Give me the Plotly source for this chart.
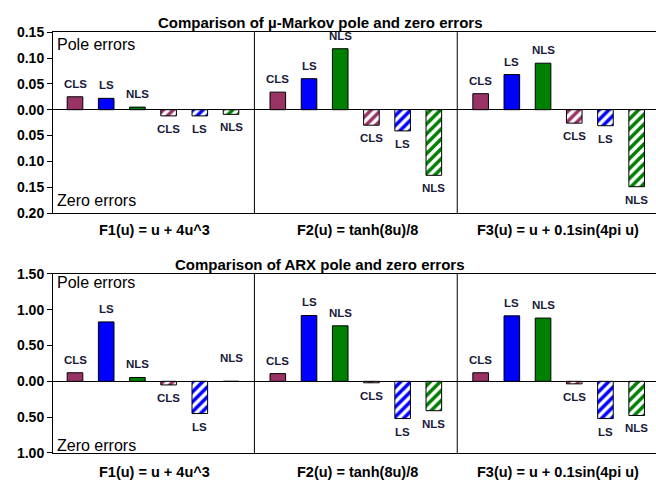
import plotly.graph_objects as go

# ---- data ----
methods = ["CLS", "LS", "NLS"]
functions = ["F1(u) = u + 4u^3", "F2(u) = tanh(8u)/8", "F3(u) = u + 0.1sin(4pi u)"]

# mu-Markov errors, one value per function (F1, F2, F3)
markov_pole_cls = [0.025, 0.034, 0.031]
markov_pole_ls = [0.022, 0.060, 0.068]
markov_pole_nls = [0.005, 0.118, 0.090]
markov_zero_cls = [0.012, 0.030, 0.026]
markov_zero_ls = [0.012, 0.041, 0.031]
markov_zero_nls = [0.009, 0.127, 0.149]

# ARX errors
arx_pole_cls = [0.12, 0.108, 0.12]
arx_pole_ls = [0.83, 0.92, 0.915]
arx_pole_nls = [0.054, 0.776, 0.884]
arx_zero_cls = [0.05, 0.02, 0.035]
arx_zero_ls = [0.45, 0.52, 0.52]
arx_zero_nls = [0.0, 0.41, 0.477]

markov_ticks = [-0.20, -0.15, -0.10, -0.05, 0.00, 0.05, 0.10, 0.15]
arx_ticks = [-1.00, -0.50, 0.00, 0.50, 1.00, 1.50]

colors = {"CLS": "#993366", "LS": "#0000FF", "NLS": "#008000"}

W, H = 656, 488
ML = 53
FONT = "Liberation Sans, Arial, sans-serif"


def px(x, y):
    # pixel position -> paper coordinates (paper spans the plot area horizontally)
    return (x - ML) / (W - ML), 1 - y / H


fig = go.Figure()

charts = [
    dict(xa="x", ya="y",
         pole=[markov_pole_cls, markov_pole_ls, markov_pole_nls],
         zero=[markov_zero_cls, markov_zero_ls, markov_zero_nls]),
    dict(xa="x2", ya="y2",
         pole=[arx_pole_cls, arx_pole_ls, arx_pole_nls],
         zero=[arx_zero_cls, arx_zero_ls, arx_zero_nls]),
]

annotations = []
GROUP = 6.5  # slots per function group
label_font = dict(family=FONT, size=11.5, color="#1a1a3a", weight="bold")

for ch in charts:
    for m, method in enumerate(methods):
        pos_x = [g * GROUP + m for g in range(3)]
        neg_x = [g * GROUP + 3 + m for g in range(3)]
        pos_y = ch["pole"][m]
        neg_y = [-v for v in ch["zero"][m]]
        fig.add_trace(go.Bar(
            x=pos_x, y=pos_y, xaxis=ch["xa"], yaxis=ch["ya"], width=0.5,
            marker=dict(color=colors[method], line=dict(color="black", width=1)),
            showlegend=False, name=method + " pole"))
        fig.add_trace(go.Bar(
            x=neg_x, y=neg_y, xaxis=ch["xa"], yaxis=ch["ya"], width=0.5,
            marker=dict(color="white", line=dict(color="black", width=1),
                        pattern=dict(shape="/", fgcolor=colors[method], bgcolor="white",
                                     fgopacity=1, size=7, solidity=0.5)),
            showlegend=False, name=method + " zero"))
        for xv, yv in zip(pos_x, pos_y):
            annotations.append(dict(x=xv, y=yv, xref=ch["xa"], yref=ch["ya"], text=method,
                                    showarrow=False, yanchor="middle", yshift=13, font=label_font))
        for xv, yv in zip(neg_x, neg_y):
            shift = 23 if yv == 0 else -13
            annotations.append(dict(x=xv, y=yv, xref=ch["xa"], yref=ch["ya"], text=method,
                                    showarrow=False, yanchor="middle", yshift=shift, font=label_font))

# function-group dividers
shapes = []
for xa, ya in [("x", "y"), ("x2", "y2")]:
    for xd in [5.75, 12.25]:
        shapes.append(dict(type="line", xref=xa, yref=ya + " domain", x0=xd, x1=xd, y0=0, y1=1,
                           line=dict(color="black", width=1)))

# titles, group labels and region captions
for ytitle, ylabel, ypole, yzero, title in [
    (15, 230, 38, 199, "Comparison of \u00b5-Markov pole and zero errors"),
    (265, 480, 284, 452, "Comparison of ARX pole and zero errors"),
]:
    x, y = px(320, ytitle)
    annotations.append(dict(x=x, y=y, xref="paper", yref="paper", text=title, showarrow=False,
                            xanchor="center", yanchor="middle",
                            font=dict(family=FONT, size=15, color="black", weight="bold")))
    for g, fname in enumerate(functions):
        cx = [154, 357, 558][g]
        x, y = px(cx, ylabel)
        annotations.append(dict(x=x, y=y, xref="paper", yref="paper", text=fname, showarrow=False,
                                xanchor="center", yanchor="middle",
                                font=dict(family=FONT, size=14.5, color="black", weight="bold")))
    for yy, txt in [(ypole, "Pole errors"), (yzero, "Zero errors")]:
        x, y = px(55, yy)
        annotations.append(dict(x=x, y=y, xref="paper", yref="paper", text=txt, showarrow=False,
                                xanchor="left", yanchor="middle",
                                font=dict(family=FONT, size=16, color="black")))


def fmt(v):
    return f"{abs(v):.2f}"


xaxis_common = dict(range=[-0.705, 18.62], showticklabels=False, showgrid=False, zeroline=False,
                    showline=True, mirror=True, linecolor="black", linewidth=1, ticks="")
yaxis_common = dict(showgrid=False, zeroline=True, zerolinecolor="black", zerolinewidth=1,
                    showline=True, linecolor="black", linewidth=1, ticks="outside", ticklen=5,
                    tickcolor="black",
                    tickfont=dict(family=FONT, size=14, color="black", weight="bold"))

fig.update_layout(
    width=W, height=H,
    margin=dict(l=ML, r=0, t=0, b=0),
    paper_bgcolor="white", plot_bgcolor="white",
    barmode="overlay",
    xaxis=dict(**xaxis_common, domain=[0, 1], anchor="y"),
    yaxis=dict(**yaxis_common, domain=[1 - 212 / H, 1 - 25 / H], range=[-0.20, 0.15],
               tickvals=markov_ticks, ticktext=[fmt(v) for v in markov_ticks], anchor="x"),
    xaxis2=dict(**xaxis_common, domain=[0, 1], anchor="y2"),
    yaxis2=dict(**yaxis_common, domain=[1 - 460 / H, 1 - 275 / H], range=[-1.0, 1.5],
                tickvals=arx_ticks, ticktext=[fmt(v) for v in arx_ticks], anchor="x2"),
    shapes=shapes,
    annotations=annotations,
)

fig.write_html("out.html")
